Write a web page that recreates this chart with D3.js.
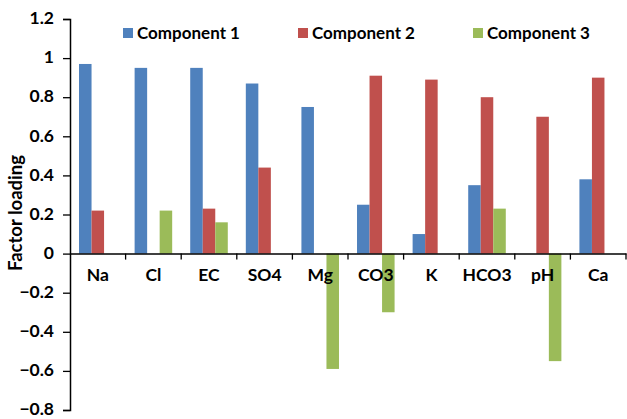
<!DOCTYPE html>
<html><head><meta charset="utf-8">
<script src="https://cdn.jsdelivr.net/npm/d3@7"></script>
<style>
html,body{margin:0;padding:0;background:#fff;}
text{font-family:Lato,"Open Sans",sans-serif;font-weight:bold;fill:#000;}
</style></head>
<body><svg id="c" width="627" height="419"></svg>
<script>
const categories = ["Na","Cl","EC","SO4","Mg","CO3","K","HCO3","pH","Ca"];
const seriesNames = ["Component 1","Component 2","Component 3"];
const component1 = [0.97,0.95,0.95,0.87,0.75,0.25,0.10,0.35,0,0.38];
const component2 = [0.22,0,0.23,0.44,0,0.91,0.89,0.80,0.70,0.90];
const component3 = [0,0.22,0.16,0,-0.59,-0.30,0,0.23,-0.55,0];
const yTicks = [-0.8,-0.6,-0.4,-0.2,0,0.2,0.4,0.6,0.8,1,1.2];
const colors = ["#4F81BD","#C0504D","#9BBB59"];

const series = [component1, component2, component3];
const svg = d3.select("#c");
const margin = {left:70, right:1, top:19, bottom:9};
const W = 627, H = 419;

const x = d3.scaleBand().domain(categories).range([margin.left, W - margin.right]).paddingInner(0).paddingOuter(0);
const y = d3.scaleLinear().domain([-0.8, 1.2]).range([H - margin.bottom, margin.top]);
const x1 = d3.scaleBand().domain(d3.range(3)).range([0, x.bandwidth()]).paddingInner(0).paddingOuter(0.72);

// bars
const g = svg.append("g");
series.forEach((vals, si) => {
  g.selectAll(null).data(vals.map((v,i)=>({v, c:categories[i]}))).enter()
    .filter(d => d.v !== 0)
    .append("rect")
    .attr("x", d => x(d.c) + x1(si))
    .attr("width", x1.bandwidth())
    .attr("y", d => y(Math.max(0, d.v)))
    .attr("height", d => Math.abs(y(d.v) - y(0)))
    .attr("fill", colors[si]);
});

// y axis
const yAxis = d3.axisLeft(y).tickValues(yTicks).tickSize(7).tickPadding(9)
  .tickFormat(d => d3.format("")(+d.toFixed(1)));
const ya = svg.append("g").attr("transform", `translate(${margin.left},0)`).call(yAxis);
ya.select(".domain").attr("stroke","#000").attr("stroke-width",1.5);
ya.selectAll(".tick line").attr("stroke","#000").attr("stroke-width",1.3);
ya.selectAll(".tick text").attr("dy","0.27em").style("font-size","17.5px").style("font-family","Lato,sans-serif").style("font-weight","bold").attr("fill","#000");

// x axis at zero
const xAxis = d3.axisBottom(x).tickSize(0).tickPadding(15);
const xa = svg.append("g").attr("transform", `translate(0,${y(0)})`).call(xAxis);
xa.select(".domain").attr("stroke","#000").attr("stroke-width",1.5);
xa.selectAll(".tick text").style("font-size","17.5px").style("font-family","Lato,sans-serif").style("font-weight","bold").attr("fill","#000");
// category boundary tick marks
xa.selectAll(".sep").data(categories).enter().append("line")
  .attr("x1", d => x(d) + x.bandwidth()).attr("x2", d => x(d) + x.bandwidth())
  .attr("y1", 0).attr("y2", 6).attr("stroke","#000").attr("stroke-width",1.3);

// y title
svg.append("text").attr("transform","translate(22,213) rotate(-90)")
  .attr("text-anchor","middle").style("font-size","18.5px").text("Factor loading");

// legend
const legX = [123, 298, 473];
seriesNames.forEach((n, i) => {
  svg.append("rect").attr("x", legX[i]).attr("y", 28).attr("width", 10).attr("height", 10).attr("fill", colors[i]);
  svg.append("text").attr("x", legX[i] + 14).attr("y", 39).style("font-size","17px").text(n);
});
</script></body></html>
